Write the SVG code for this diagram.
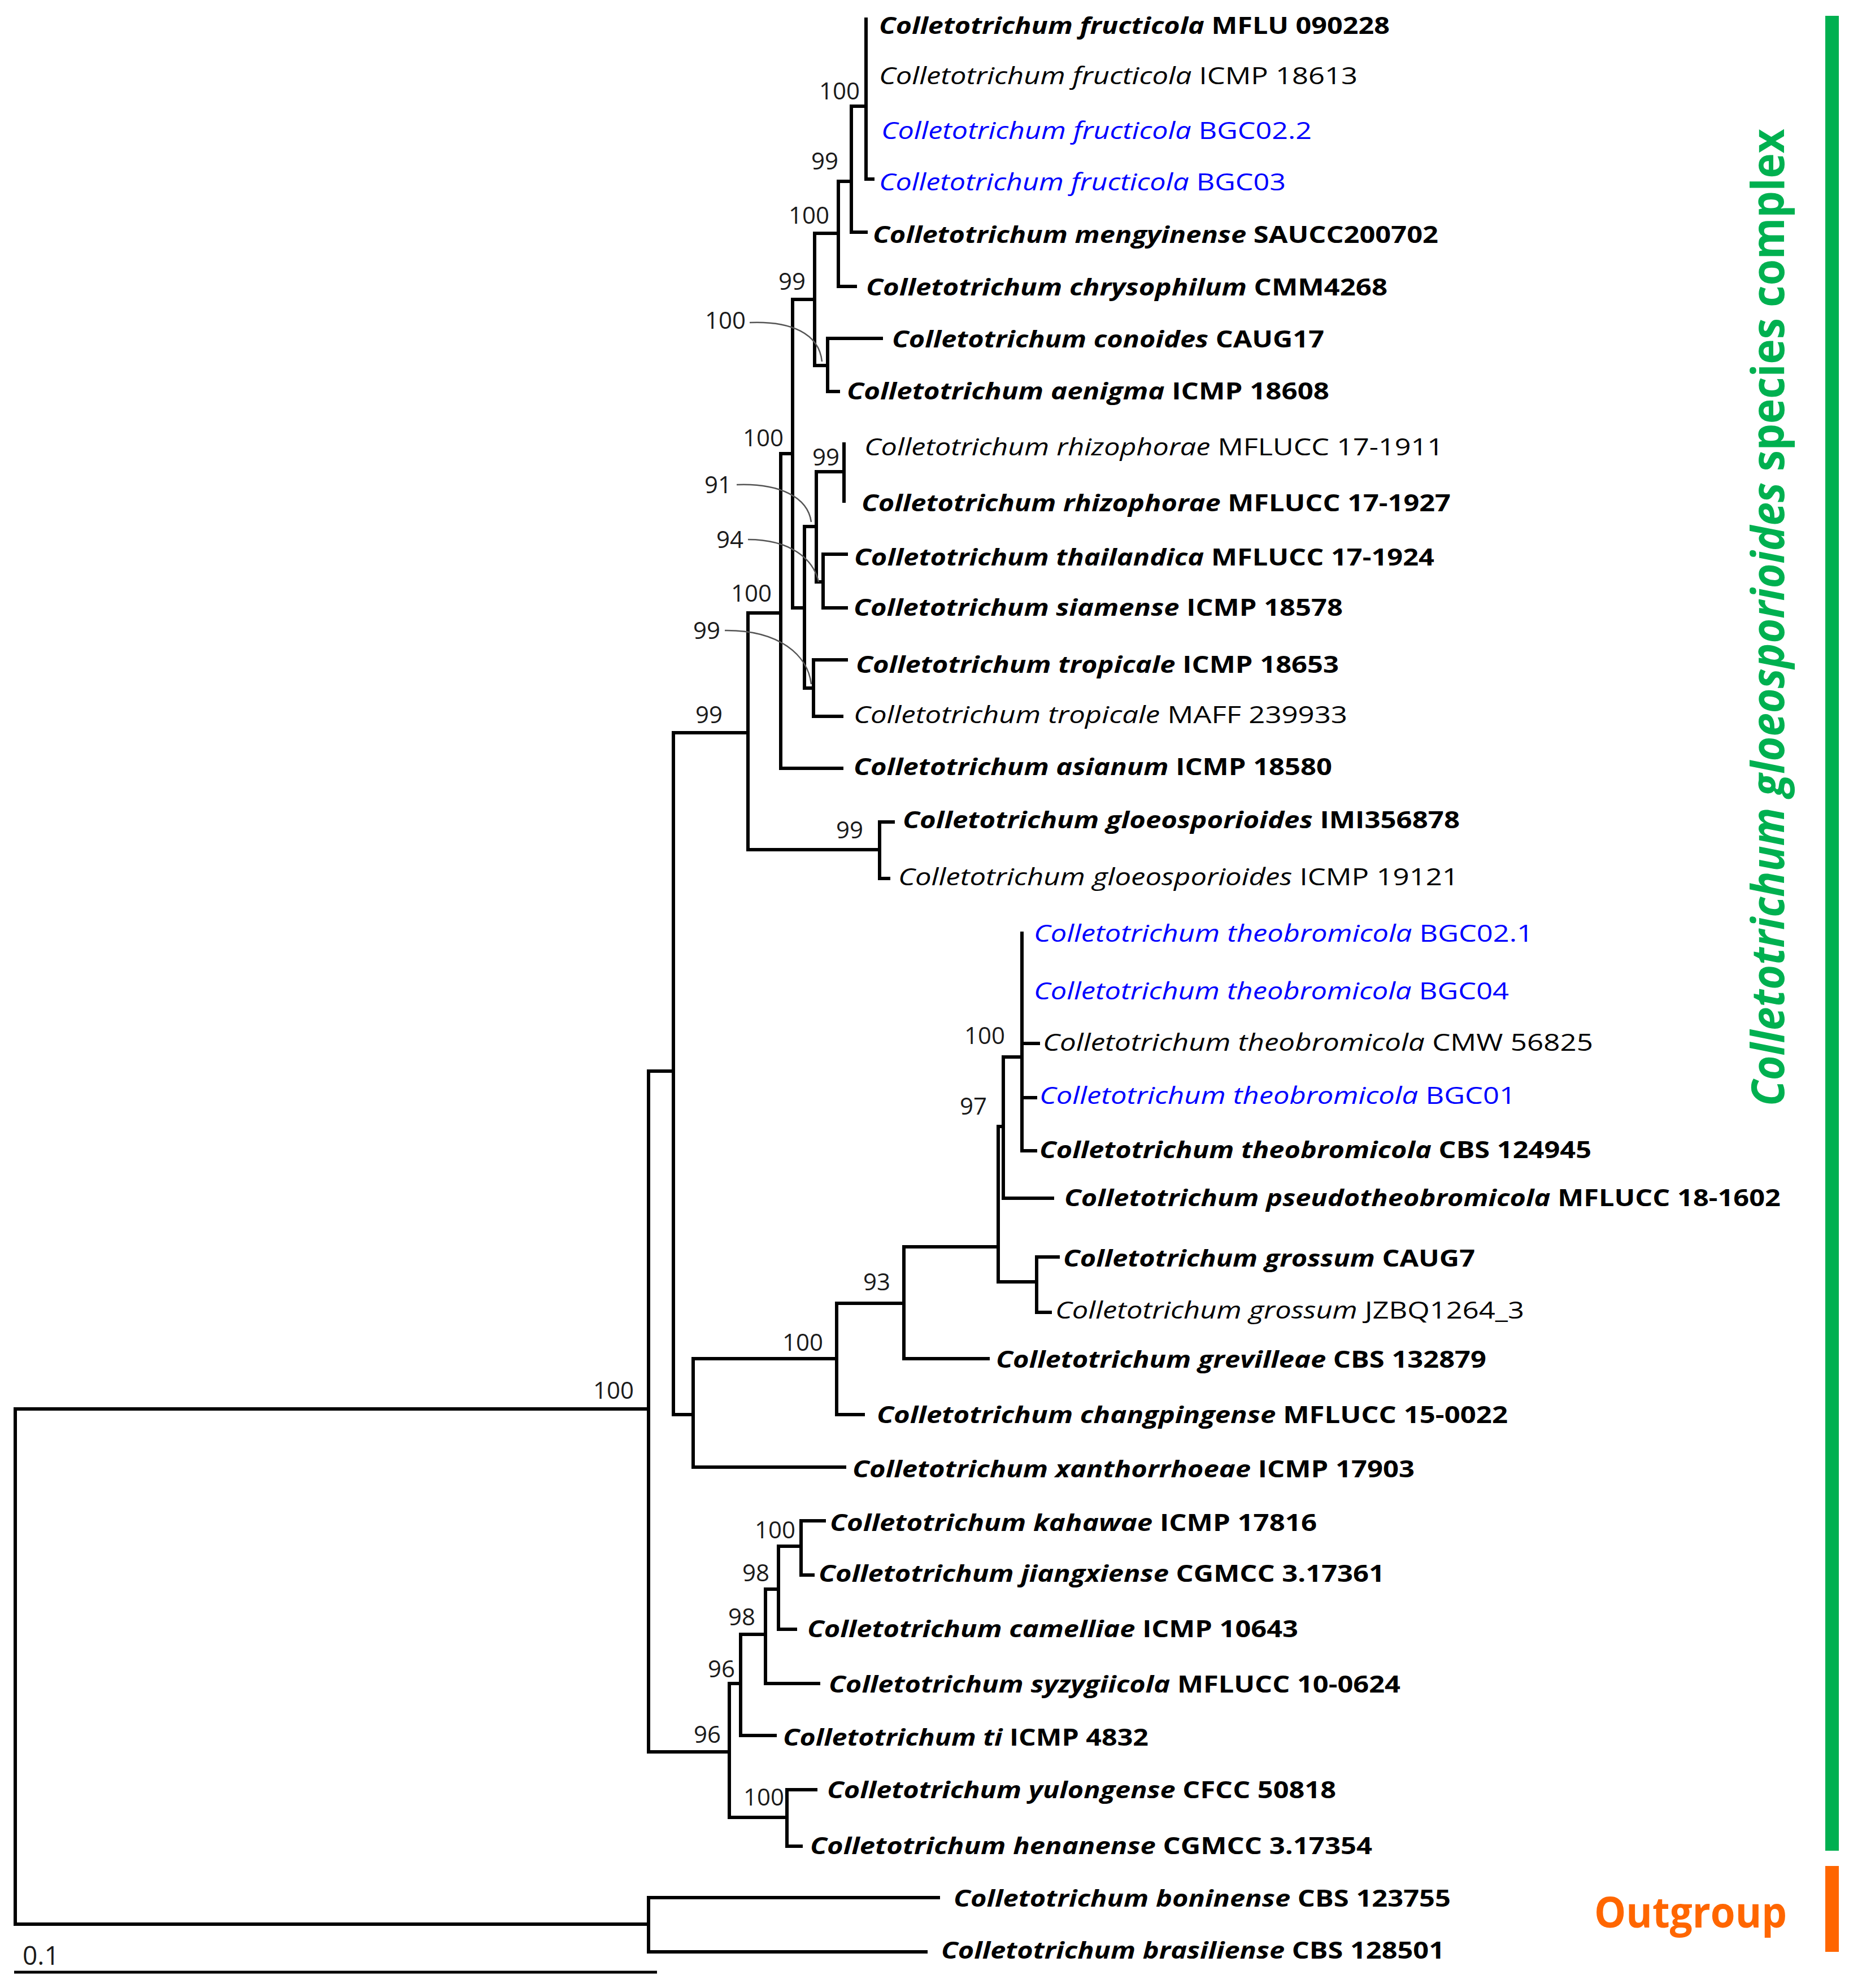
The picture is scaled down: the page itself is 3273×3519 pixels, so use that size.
<svg xmlns="http://www.w3.org/2000/svg" width="3273" height="3519" viewBox="0 0 3273 3519">
<style>
.br{fill:none;stroke:#000;stroke-width:6;stroke-linecap:square;stroke-linejoin:miter}
.pt{fill:none;stroke:#555;stroke-width:2.5}
.tx{font-family:'Open Sans','Noto Sans',sans-serif;font-size:42px;fill:#000}
.b{font-weight:bold}
.blue{fill:#0000FF}
.it{font-style:italic}
.bs{font-family:'Open Sans','Noto Sans',sans-serif;font-size:42px;fill:#1a1a1a;text-anchor:end}
</style>
<rect x="0" y="0" width="3273" height="3519" fill="#fff"/>
<g id="connectors">
<path class="br" d="M1148,2494 H27 V3406 H1148"/>
<path class="br" d="M1192,1896 H1148 V3101 H1291"/>
<path class="br" d="M1661,3359 H1148 V3455 H1639"/>
<path class="br" d="M1324,1297 H1192 V2504 H1227"/>
<path class="br" d="M1382,1085 H1324 V1504 H1557"/>
<path class="br" d="M1403,803 H1382 V1360 H1490"/>
<path class="br" d="M1442,530 H1403 V1076 H1424"/>
<path class="br" d="M1484,413 H1442 V647 H1465"/>
<path class="br" d="M1507,321 H1484 V507 H1514"/>
<path class="br" d="M1533,188 H1507 V411 H1533"/>
<path class="br" d="M1533,34 V317 H1545"/>
<path class="br" d="M1560,599 H1465 V693 H1484"/>
<path class="br" d="M1445,932 H1424 V1218 H1440"/>
<path class="br" d="M1494,835 H1445 V1030 H1457"/>
<path class="br" d="M1494,786 V887"/>
<path class="br" d="M1498,981 H1457 V1076 H1498"/>
<path class="br" d="M1498,1168 H1440 V1268 H1490"/>
<path class="br" d="M1581,1455 H1557 V1555 H1573"/>
<path class="br" d="M1481,2405 H1227 V2597 H1495"/>
<path class="br" d="M1600,2307 H1481 V2504 H1528"/>
<path class="br" d="M1767,2207 H1600 V2405 H1749"/>
<path class="br" d="M1776,1994 H1767 V2269 H1835"/>
<path class="br" d="M1809,1871 H1776 V2121 H1863"/>
<path class="br" d="M1809,1652 V2037 H1833 M1809,1847 H1838 M1809,1943 H1833"/>
<path class="br" d="M1873,2225 H1835 V2323 H1859"/>
<path class="br" d="M1311,2980 H1291 V3217 H1393"/>
<path class="br" d="M1355,2893 H1311 V3072 H1372"/>
<path class="br" d="M1378,2813 H1355 V2980 H1449"/>
<path class="br" d="M1418,2737 H1378 V2884 H1408"/>
<path class="br" d="M1459,2692 H1418 V2788 H1439"/>
<path class="br" d="M1444,3168 H1393 V3268 H1418"/>
<path class="pt" d="M1327,571 C1400,568 1450,590 1455,640"/>
<path class="pt" d="M1304,858 C1380,855 1430,880 1436,924"/>
<path class="pt" d="M1324,955 C1400,955 1440,990 1449,1030"/>
<path class="pt" d="M1283,1116 C1380,1115 1430,1160 1436,1211"/>
</g>
<g id="bootstrap">
<text class="bs" x="1522" y="176">100</text>
<text class="bs" x="1484" y="300">99</text>
<text class="bs" x="1468" y="396">100</text>
<text class="bs" x="1426" y="513">99</text>
<text class="bs" x="1320" y="582">100</text>
<text class="bs" x="1387" y="790">100</text>
<text class="bs" x="1486" y="824">99</text>
<text class="bs" x="1295" y="873">91</text>
<text class="bs" x="1316" y="970">94</text>
<text class="bs" x="1366" y="1065">100</text>
<text class="bs" x="1275" y="1131">99</text>
<text class="bs" x="1279" y="1280">99</text>
<text class="bs" x="1528" y="1484">99</text>
<text class="bs" x="1779" y="1848">100</text>
<text class="bs" x="1747" y="1973">97</text>
<text class="bs" x="1576" y="2284">93</text>
<text class="bs" x="1457" y="2391">100</text>
<text class="bs" x="1122" y="2476">100</text>
<text class="bs" x="1408" y="2723">100</text>
<text class="bs" x="1362" y="2799">98</text>
<text class="bs" x="1337" y="2877">98</text>
<text class="bs" x="1301" y="2969">96</text>
<text class="bs" x="1276" y="3085">96</text>
<text class="bs" x="1388" y="3196">100</text>
</g>
<g id="taxa">
<g id="t1"><text class="tx b" x="1556" y="60" textLength="904" lengthAdjust="spacingAndGlyphs"><tspan class="it">Colletotrichum fructicola</tspan> MFLU 090228</text></g>
<g id="t2"><text class="tx" x="1556" y="149" textLength="847" lengthAdjust="spacingAndGlyphs"><tspan class="it">Colletotrichum fructicola</tspan> ICMP 18613</text></g>
<g id="t3"><text class="tx blue" x="1560" y="246" textLength="762" lengthAdjust="spacingAndGlyphs"><tspan class="it">Colletotrichum fructicola</tspan> BGC02.2</text></g>
<g id="t4"><text class="tx blue" x="1556" y="337" textLength="720" lengthAdjust="spacingAndGlyphs"><tspan class="it">Colletotrichum fructicola</tspan> BGC03</text></g>
<g id="t5"><text class="tx b" x="1545" y="430" textLength="1001" lengthAdjust="spacingAndGlyphs"><tspan class="it">Colletotrichum mengyinense</tspan> SAUCC200702</text></g>
<g id="t6"><text class="tx b" x="1533" y="523" textLength="923" lengthAdjust="spacingAndGlyphs"><tspan class="it">Colletotrichum chrysophilum</tspan> CMM4268</text></g>
<g id="t7"><text class="tx b" x="1579" y="615" textLength="765" lengthAdjust="spacingAndGlyphs"><tspan class="it">Colletotrichum conoides</tspan> CAUG17</text></g>
<g id="t8"><text class="tx b" x="1499" y="707" textLength="854" lengthAdjust="spacingAndGlyphs"><tspan class="it">Colletotrichum aenigma</tspan> ICMP 18608</text></g>
<g id="t9"><text class="tx" x="1530" y="806" textLength="1025" lengthAdjust="spacingAndGlyphs"><tspan class="it">Colletotrichum rhizophorae</tspan> MFLUCC 17-1911</text></g>
<g id="t10"><text class="tx b" x="1525" y="905" textLength="1043" lengthAdjust="spacingAndGlyphs"><tspan class="it">Colletotrichum rhizophorae</tspan> MFLUCC 17-1927</text></g>
<g id="t11"><text class="tx b" x="1512" y="1001" textLength="1027" lengthAdjust="spacingAndGlyphs"><tspan class="it">Colletotrichum thailandica</tspan> MFLUCC 17-1924</text></g>
<g id="t12"><text class="tx b" x="1511" y="1090" textLength="866" lengthAdjust="spacingAndGlyphs"><tspan class="it">Colletotrichum siamense</tspan> ICMP 18578</text></g>
<g id="t13"><text class="tx b" x="1515" y="1191" textLength="855" lengthAdjust="spacingAndGlyphs"><tspan class="it">Colletotrichum tropicale</tspan> ICMP 18653</text></g>
<g id="t14"><text class="tx" x="1511" y="1280" textLength="874" lengthAdjust="spacingAndGlyphs"><tspan class="it">Colletotrichum tropicale</tspan> MAFF 239933</text></g>
<g id="t15"><text class="tx b" x="1511" y="1372" textLength="847" lengthAdjust="spacingAndGlyphs"><tspan class="it">Colletotrichum asianum</tspan> ICMP 18580</text></g>
<g id="t16"><text class="tx b" x="1598" y="1466" textLength="986" lengthAdjust="spacingAndGlyphs"><tspan class="it">Colletotrichum gloeosporioides</tspan> IMI356878</text></g>
<g id="t17"><text class="tx" x="1590" y="1567" textLength="992" lengthAdjust="spacingAndGlyphs"><tspan class="it">Colletotrichum gloeosporioides</tspan> ICMP 19121</text></g>
<g id="t18"><text class="tx blue" x="1830" y="1667" textLength="884" lengthAdjust="spacingAndGlyphs"><tspan class="it">Colletotrichum theobromicola</tspan> BGC02.1</text></g>
<g id="t19"><text class="tx blue" x="1830" y="1769" textLength="841" lengthAdjust="spacingAndGlyphs"><tspan class="it">Colletotrichum theobromicola</tspan> BGC04</text></g>
<g id="t20"><text class="tx" x="1846" y="1860" textLength="974" lengthAdjust="spacingAndGlyphs"><tspan class="it">Colletotrichum theobromicola</tspan> CMW 56825</text></g>
<g id="t21"><text class="tx blue" x="1840" y="1954" textLength="843" lengthAdjust="spacingAndGlyphs"><tspan class="it">Colletotrichum theobromicola</tspan> BGC01</text></g>
<g id="t22"><text class="tx b" x="1840" y="2050" textLength="977" lengthAdjust="spacingAndGlyphs"><tspan class="it">Colletotrichum theobromicola</tspan> CBS 124945</text></g>
<g id="t23"><text class="tx b" x="1884" y="2135" textLength="1268" lengthAdjust="spacingAndGlyphs"><tspan class="it">Colletotrichum pseudotheobromicola</tspan> MFLUCC 18-1602</text></g>
<g id="t24"><text class="tx b" x="1882" y="2242" textLength="729" lengthAdjust="spacingAndGlyphs"><tspan class="it">Colletotrichum grossum</tspan> CAUG7</text></g>
<g id="t25"><text class="tx" x="1868" y="2334" textLength="830" lengthAdjust="spacingAndGlyphs"><tspan class="it">Colletotrichum grossum</tspan> JZBQ1264_3</text></g>
<g id="t26"><text class="tx b" x="1763" y="2421" textLength="868" lengthAdjust="spacingAndGlyphs"><tspan class="it">Colletotrichum grevilleae</tspan> CBS 132879</text></g>
<g id="t27"><text class="tx b" x="1552" y="2519" textLength="1117" lengthAdjust="spacingAndGlyphs"><tspan class="it">Colletotrichum changpingense</tspan> MFLUCC 15-0022</text></g>
<g id="t28"><text class="tx b" x="1509" y="2615" textLength="995" lengthAdjust="spacingAndGlyphs"><tspan class="it">Colletotrichum xanthorrhoeae</tspan> ICMP 17903</text></g>
<g id="t29"><text class="tx b" x="1469" y="2710" textLength="862" lengthAdjust="spacingAndGlyphs"><tspan class="it">Colletotrichum kahawae</tspan> ICMP 17816</text></g>
<g id="t30"><text class="tx b" x="1449" y="2800" textLength="1002" lengthAdjust="spacingAndGlyphs"><tspan class="it">Colletotrichum jiangxiense</tspan> CGMCC 3.17361</text></g>
<g id="t31"><text class="tx b" x="1429" y="2898" textLength="869" lengthAdjust="spacingAndGlyphs"><tspan class="it">Colletotrichum camelliae</tspan> ICMP 10643</text></g>
<g id="t32"><text class="tx b" x="1467" y="2996" textLength="1012" lengthAdjust="spacingAndGlyphs"><tspan class="it">Colletotrichum syzygiicola</tspan> MFLUCC 10-0624</text></g>
<g id="t33"><text class="tx b" x="1386" y="3090" textLength="647" lengthAdjust="spacingAndGlyphs"><tspan class="it">Colletotrichum ti</tspan> ICMP 4832</text></g>
<g id="t34"><text class="tx b" x="1464" y="3183" textLength="901" lengthAdjust="spacingAndGlyphs"><tspan class="it">Colletotrichum yulongense</tspan> CFCC 50818</text></g>
<g id="t35"><text class="tx b" x="1434" y="3282" textLength="995" lengthAdjust="spacingAndGlyphs"><tspan class="it">Colletotrichum henanense</tspan> CGMCC 3.17354</text></g>
<g id="t36"><text class="tx b" x="1688" y="3375" textLength="880" lengthAdjust="spacingAndGlyphs"><tspan class="it">Colletotrichum boninense</tspan> CBS 123755</text></g>
<g id="t37"><text class="tx b" x="1666" y="3467" textLength="891" lengthAdjust="spacingAndGlyphs"><tspan class="it">Colletotrichum brasiliense</tspan> CBS 128501</text></g>
</g>
<g id="complex-bar">
<rect x="3231" y="28" width="24" height="3248" fill="#00B050"/>
<text transform="translate(3158,1958) rotate(-90)" x="0" y="0" font-family="'Open Sans','Noto Sans',sans-serif" font-size="80" font-weight="bold" fill="#00B050" textLength="1730" lengthAdjust="spacingAndGlyphs"><tspan font-style="italic">Colletotrichum gloeosporioides</tspan> species complex</text>
</g>
<g id="outgroup-bar">
<rect x="3231" y="3303" width="24" height="152" fill="#FF6600"/>
<text x="2822" y="3412" font-family="'Open Sans','Noto Sans',sans-serif" font-size="76" font-weight="bold" fill="#FF6600" textLength="341" lengthAdjust="spacingAndGlyphs">Outgroup</text>
</g>
<g id="scale">
<path d="M25,3491 H1163" stroke="#000" stroke-width="5" fill="none"/>
<text x="40" y="3478" font-family="'Open Sans','Noto Sans',sans-serif" font-size="46" fill="#1a1a1a">0.1</text>
</g>
</svg>
